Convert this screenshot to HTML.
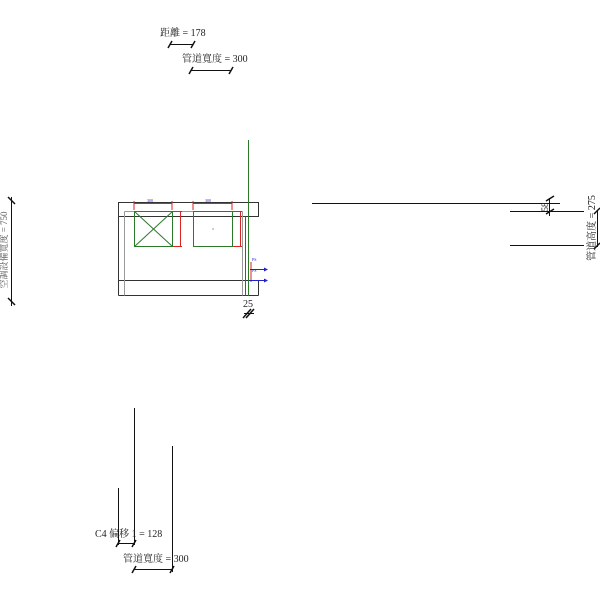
<!DOCTYPE html>
<html><head><meta charset="utf-8"><style>html,body{margin:0;padding:0;background:#fff;}svg{display:block;}</style></head>
<body>
<svg width="600" height="600" viewBox="0 0 600 600" xmlns="http://www.w3.org/2000/svg" font-family="'Liberation Serif','Noto Serif CJK SC',serif">
<!-- main body -->
<g fill="none" stroke-width="1">
<rect x="118.5" y="202.5" width="140" height="14" stroke="#333"/>
<line x1="118.5" y1="202.5" x2="118.5" y2="295.5" stroke="#333"/>
<line x1="118.5" y1="295.5" x2="248.5" y2="295.5" stroke="#333"/>
<line x1="118.5" y1="280.5" x2="248.5" y2="280.5" stroke="#333"/>
<line x1="124.5" y1="211.5" x2="124.5" y2="295.5" stroke="#999"/>
<line x1="124.5" y1="211.5" x2="242.5" y2="211.5" stroke="#999"/>
<line x1="242.5" y1="211.5" x2="242.5" y2="295.5" stroke="#999"/>
<line x1="245.5" y1="216.5" x2="245.5" y2="295.5" stroke="#555"/>
<line x1="248.5" y1="280.5" x2="258.5" y2="280.5" stroke="#333"/>
<line x1="258.5" y1="280.5" x2="258.5" y2="295.5" stroke="#333"/>
<line x1="248.5" y1="295.5" x2="258.5" y2="295.5" stroke="#333"/>
<line x1="248.5" y1="140" x2="248.5" y2="296" stroke="#2a7a2a"/>
<!-- green boxes -->
<rect x="134.5" y="211.5" width="38" height="35" stroke="#2a7a2a"/>
<line x1="134.5" y1="211.5" x2="172.5" y2="246.5" stroke="#2a7a2a"/>
<line x1="172.5" y1="211.5" x2="134.5" y2="246.5" stroke="#2a7a2a"/>
<rect x="193.5" y="211.5" width="39" height="35" stroke="#2a7a2a"/>
<!-- red dims -->
<g stroke="#d22" stroke-width="1">
<line x1="134" y1="203.5" x2="172" y2="203.5"/><line x1="134" y1="201" x2="134" y2="210"/><line x1="172" y1="201" x2="172" y2="210"/>
<line x1="180.5" y1="211" x2="180.5" y2="246"/><line x1="173" y1="211.5" x2="182" y2="211.5"/><line x1="173" y1="246.5" x2="182" y2="246.5"/>
<line x1="193" y1="203.5" x2="232" y2="203.5"/><line x1="193" y1="201" x2="193" y2="210"/><line x1="232" y1="201" x2="232" y2="210"/>
<line x1="240.5" y1="211" x2="240.5" y2="246"/><line x1="233" y1="211.5" x2="242" y2="211.5"/><line x1="233" y1="246.5" x2="242" y2="246.5"/>
<line x1="251" y1="262" x2="251" y2="282"/>
</g>
<!-- blue arrows -->
<g stroke="#22c" stroke-width="1">
<line x1="250" y1="269.5" x2="266" y2="269.5"/><line x1="250" y1="280.5" x2="266" y2="280.5"/>
</g>
<path d="M268 269.5 l-4 -2 v4z M268 280.5 l-4 -2 v4z" fill="#22c"/>
<!-- right lines -->
<line x1="312" y1="203.5" x2="560" y2="203.5" stroke="#111"/>
<line x1="510" y1="211.5" x2="584" y2="211.5" stroke="#111"/>
<line x1="510" y1="245.5" x2="584" y2="245.5" stroke="#111"/>
<line x1="597.5" y1="210" x2="597.5" y2="247" stroke="#111"/>
<line x1="594" y1="214" x2="600" y2="208" stroke="#111" stroke-width="1.5"/>
<line x1="594" y1="249" x2="600" y2="243" stroke="#111" stroke-width="1.5"/>
<line x1="549.5" y1="198" x2="549.5" y2="216" stroke="#111"/>
<line x1="546" y1="201" x2="554" y2="196" stroke="#111" stroke-width="1.5"/>
<line x1="546" y1="214" x2="554" y2="209" stroke="#111" stroke-width="1.5"/>
<!-- left dim -->
<line x1="11.5" y1="197" x2="11.5" y2="306" stroke="#111"/>
<line x1="8" y1="197" x2="15" y2="204" stroke="#111" stroke-width="1.5"/>
<line x1="8" y1="298" x2="15" y2="305" stroke="#111" stroke-width="1.5"/>
<!-- 25 dim -->
<line x1="244" y1="313.5" x2="254" y2="313.5" stroke="#111"/>
<line x1="243" y1="318" x2="251" y2="309" stroke="#111" stroke-width="1.5"/>
<line x1="246" y1="318" x2="254" y2="309" stroke="#111" stroke-width="1.5"/>
<!-- top dims -->
<line x1="170" y1="44.5" x2="193" y2="44.5" stroke="#111"/>
<line x1="168" y1="48" x2="172" y2="41" stroke="#111" stroke-width="1.5"/>
<line x1="191" y1="48" x2="195" y2="41" stroke="#111" stroke-width="1.5"/>
<line x1="191" y1="70.5" x2="231" y2="70.5" stroke="#111"/>
<line x1="189" y1="74" x2="193" y2="67" stroke="#111" stroke-width="1.5"/>
<line x1="229" y1="74" x2="233" y2="67" stroke="#111" stroke-width="1.5"/>
<!-- bottom -->
<line x1="134.5" y1="408" x2="134.5" y2="545" stroke="#111"/>
<line x1="172.5" y1="446" x2="172.5" y2="572" stroke="#111"/>
<line x1="118.5" y1="488" x2="118.5" y2="545" stroke="#111"/>
<line x1="118" y1="543.5" x2="134" y2="543.5" stroke="#111"/>
<line x1="116" y1="547" x2="120" y2="540" stroke="#111" stroke-width="1.5"/>
<line x1="132" y1="547" x2="136" y2="540" stroke="#111" stroke-width="1.5"/>
<line x1="134" y1="569.5" x2="172" y2="569.5" stroke="#111"/>
<line x1="132" y1="573" x2="136" y2="566" stroke="#111" stroke-width="1.5"/>
<line x1="170" y1="573" x2="174" y2="566" stroke="#111" stroke-width="1.5"/>
</g>
<g fill="#222" font-size="10">
<text x="160" y="36">距離 = 178</text>
<text x="182" y="62">管道寬度 = 300</text>
<text x="95" y="537">C4 偏移 1 = 128</text>
<text x="123" y="562">管道寬度 = 300</text>
<text x="243" y="307">25</text>
<text transform="translate(7,250) rotate(-90)" text-anchor="middle" font-size="9" fill="#555">空調設備寬度 = 750</text>
<text transform="translate(595,228) rotate(-90)" text-anchor="middle">管道高度 = 275</text>
<text transform="translate(548,207) rotate(-90)" text-anchor="middle" font-size="9">58</text>
</g>
<g fill="#22c" font-size="4">
<text x="147" y="202">300</text><text x="205" y="202">300</text>
<text x="252" y="261">PS</text><text x="252" y="272">PS</text>
</g>
<circle cx="213" cy="229" r="0.6" fill="#555"/>
</svg>
</body></html>
